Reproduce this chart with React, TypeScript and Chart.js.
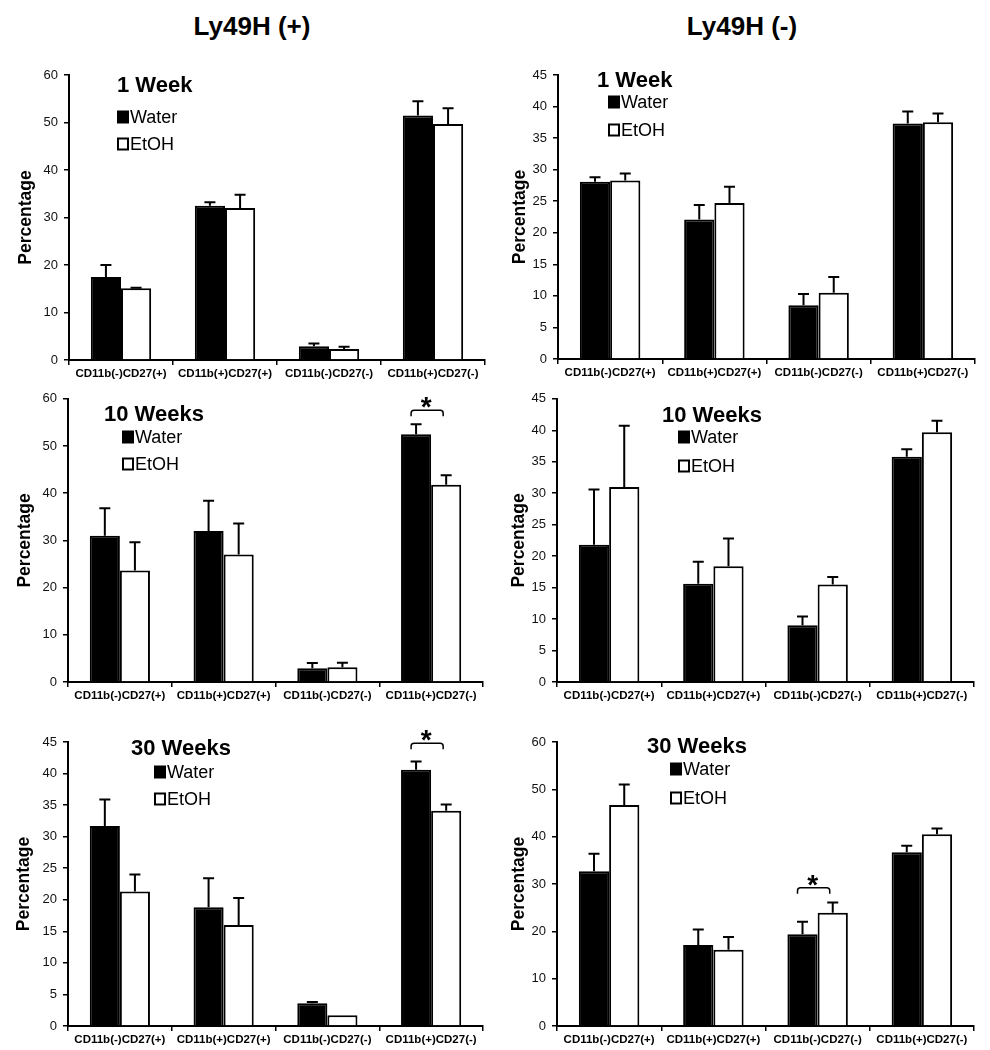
import React, { useEffect, useRef } from 'react';
import { Chart, registerables } from 'chart.js';

Chart.register(...registerables);

const FONT = '"Liberation Sans", Arial, Helvetica, sans-serif';

// ---------- data ----------
const categories = ['CD11b(-)CD27(+)', 'CD11b(+)CD27(+)', 'CD11b(-)CD27(-)', 'CD11b(+)CD27(-)'];
const seriesNames = ['Water', 'EtOH'];
const columnTitles = ['Ly49H (+)', 'Ly49H (-)'];
const panelTitles = ['1 Week', '1 Week', '10 Weeks', '10 Weeks', '30 Weeks', '30 Weeks'];
const yAxisTitle = 'Percentage';

// Ly49H (+), 1 week
const posW1Water = [17.5, 32.5, 2.9, 51.5];
const posW1WaterErr = [2.5, 0.7, 0.6, 3.0];
const posW1Etoh = [15.1, 32.0, 2.3, 49.7];
const posW1EtohErr = [0.1, 2.8, 0.5, 3.3];
// Ly49H (-), 1 week
const negW1Water = [28.1, 22.1, 8.5, 37.3];
const negW1WaterErr = [0.7, 2.3, 1.8, 1.9];
const negW1Etoh = [28.3, 24.7, 10.5, 37.5];
const negW1EtohErr = [1.1, 2.6, 2.5, 1.4];
// Ly49H (+), 10 weeks
const posW10Water = [31.0, 32.0, 2.9, 52.5];
const posW10WaterErr = [5.8, 6.4, 1.1, 2.1];
const posW10Etoh = [23.6, 27.0, 3.1, 41.8];
const posW10EtohErr = [6.0, 6.6, 1.0, 2.0];
// Ly49H (-), 10 weeks
const negW10Water = [21.8, 15.6, 9.0, 35.8];
const negW10WaterErr = [8.8, 3.5, 1.4, 1.2];
const negW10Etoh = [31.0, 18.4, 15.5, 39.7];
const negW10EtohErr = [9.7, 4.4, 1.2, 1.8];
// Ly49H (+), 30 weeks
const posW30Water = [31.7, 18.8, 3.6, 40.6];
const posW30WaterErr = [4.2, 4.6, 0.2, 1.3];
const posW30Etoh = [21.3, 16.0, 1.7, 34.1];
const posW30EtohErr = [2.7, 4.3, 0, 1.0];
// Ly49H (-), 30 weeks
const negW30Water = [32.7, 17.1, 19.4, 36.7];
const negW30WaterErr = [3.7, 3.3, 2.6, 1.4];
const negW30Etoh = [46.7, 16.1, 23.9, 40.5];
const negW30EtohErr = [4.3, 2.7, 2.2, 1.2];

// y-axis ranges
const axisMax = [60, 45, 60, 45, 45, 60];
const axisStep = [10, 5, 10, 5, 5, 10];

// significance markers: category index and bracket height (data units)
const posW1Sig: { cat: number; y: number }[] = [];
const negW1Sig: { cat: number; y: number }[] = [];
const posW10Sig = [{ cat: 3, y: 57.6 }];
const negW10Sig: { cat: number; y: number }[] = [];
const posW30Sig = [{ cat: 3, y: 44.8 }];
const negW30Sig = [{ cat: 2, y: 29.2 }];

// ---------- layout ----------
type Layout = {
  left: number; top: number; height: number;
  plotLeft: number; plotRight: number; plotTop: number; plotBottom: number;
  titleX: number; titleBase: number; legX: number; legY1: number; legY2: number;
  yTitlePad: number;
};

const layouts: Layout[] = [
  { left: 0, top: 40, height: 345, plotLeft: 69, plotRight: 485, plotTop: 75, plotBottom: 360, titleX: 117, titleBase: 92, legX: 117, legY1: 117, legY2: 144, yTitlePad: 16 },
  { left: 495, top: 40, height: 345, plotLeft: 558, plotRight: 975, plotTop: 75, plotBottom: 359, titleX: 597, titleBase: 87, legX: 608, legY1: 102, legY2: 130, yTitlePad: 15 },
  { left: 0, top: 385, height: 335, plotLeft: 68, plotRight: 483, plotTop: 398, plotBottom: 682, titleX: 104, titleBase: 421, legX: 122, legY1: 437, legY2: 464, yTitlePad: 15 },
  { left: 495, top: 385, height: 335, plotLeft: 557, plotRight: 974, plotTop: 398, plotBottom: 682, titleX: 662, titleBase: 422, legX: 678, legY1: 437, legY2: 466, yTitlePad: 14 },
  { left: 0, top: 720, height: 330, plotLeft: 68, plotRight: 483, plotTop: 742, plotBottom: 1026, titleX: 131, titleBase: 755, legX: 154, legY1: 772, legY2: 799, yTitlePad: 14 },
  { left: 495, top: 720, height: 330, plotLeft: 557, plotRight: 974, plotTop: 742, plotBottom: 1026, titleX: 647, titleBase: 753, legX: 670, legY1: 769, legY2: 798, yTitlePad: 14 },
];

const panelData = [
  { water: posW1Water, waterErr: posW1WaterErr, etoh: posW1Etoh, etohErr: posW1EtohErr, sig: posW1Sig },
  { water: negW1Water, waterErr: negW1WaterErr, etoh: negW1Etoh, etohErr: negW1EtohErr, sig: negW1Sig },
  { water: posW10Water, waterErr: posW10WaterErr, etoh: posW10Etoh, etohErr: posW10EtohErr, sig: posW10Sig },
  { water: negW10Water, waterErr: negW10WaterErr, etoh: negW10Etoh, etohErr: negW10EtohErr, sig: negW10Sig },
  { water: posW30Water, waterErr: posW30WaterErr, etoh: posW30Etoh, etohErr: posW30EtohErr, sig: posW30Sig },
  { water: negW30Water, waterErr: negW30WaterErr, etoh: negW30Etoh, etohErr: negW30EtohErr, sig: negW30Sig },
];

const CANVAS_W = 495;
const X_AXIS_H = 22;

function Panel({ index }: { index: number }) {
  const ref = useRef<HTMLCanvasElement | null>(null);
  const L = layouts[index];
  const D = panelData[index];

  useEffect(() => {
    if (!ref.current) return;
    const errs = [D.waterErr, D.etohErr];
    const ox = L.left;
    const oy = L.top;

    const overlay = {
      id: 'overlay' + index,
      afterDatasetsDraw(chart: any) {
        const ctx = chart.ctx;
        const ys = chart.scales.y;
        ctx.save();
        ctx.strokeStyle = '#000';
        ctx.lineWidth = 2;
        errs.forEach((arr, di) => {
          const meta = chart.getDatasetMeta(di);
          meta.data.forEach((bar: any, i: number) => {
            const e = arr[i];
            if (!e) return;
            const v = chart.data.datasets[di].data[i];
            const top = ys.getPixelForValue(v + e);
            ctx.beginPath();
            ctx.moveTo(bar.x, bar.y);
            ctx.lineTo(bar.x, top);
            ctx.moveTo(bar.x - 5.5, top);
            ctx.lineTo(bar.x + 5.5, top);
            ctx.stroke();
          });
        });
        ctx.restore();
      },
      afterDraw(chart: any) {
        const ctx = chart.ctx;
        const ys = chart.scales.y;
        ctx.save();
        // panel title
        ctx.fillStyle = '#000';
        ctx.font = `bold 22px ${FONT}`;
        ctx.textAlign = 'left';
        ctx.textBaseline = 'alphabetic';
        ctx.fillText(panelTitles[index], L.titleX - ox, L.titleBase - oy);
        // legend
        const box = 11;
        const rows = [L.legY1, L.legY2];
        seriesNames.forEach((name, si) => {
          const cy = rows[si] - oy;
          const bx = L.legX - ox;
          ctx.lineWidth = 2;
          ctx.strokeStyle = '#000';
          ctx.fillStyle = si === 0 ? '#000' : '#fff';
          ctx.fillRect(bx + 1, cy - box / 2, box - 1, box);
          ctx.strokeRect(bx + 1, cy - box / 2, box - 1, box);
          ctx.fillStyle = '#000';
          ctx.font = `18px ${FONT}`;
          ctx.textBaseline = 'middle';
          ctx.fillText(name, bx + box + 2, cy + 1);
        });
        // significance brackets
        D.sig.forEach((s) => {
          const w = chart.getDatasetMeta(0).data[s.cat];
          const e = chart.getDatasetMeta(1).data[s.cat];
          const x1 = w.x - 5;
          const x2 = e.x - 3;
          const yl = ys.getPixelForValue(s.y);
          const leg = 6;
          const r = 3;
          ctx.beginPath();
          ctx.lineWidth = 1.5;
          ctx.strokeStyle = '#000';
          ctx.moveTo(x1, yl + leg);
          ctx.lineTo(x1, yl + r);
          ctx.quadraticCurveTo(x1, yl, x1 + r, yl);
          ctx.lineTo(x2 - r, yl);
          ctx.quadraticCurveTo(x2, yl, x2, yl + r);
          ctx.lineTo(x2, yl + leg);
          ctx.stroke();
          ctx.font = `bold 28px ${FONT}`;
          ctx.textAlign = 'center';
          ctx.textBaseline = 'alphabetic';
          ctx.fillStyle = '#000';
          ctx.fillText('*', (x1 + x2) / 2 - 1, yl + 6);
        });
        ctx.restore();
      },
    };

    const chart = new Chart(ref.current, {
      type: 'bar',
      data: {
        labels: categories,
        datasets: [
          {
            label: seriesNames[0],
            data: D.water,
            backgroundColor: '#000',
            borderColor: '#000',
            borderWidth: 2,
            categoryPercentage: 0.58,
            barPercentage: 1.0,
          },
          {
            label: seriesNames[1],
            data: D.etoh,
            backgroundColor: '#fff',
            borderColor: '#000',
            borderWidth: 2,
            categoryPercentage: 0.58,
            barPercentage: 1.0,
          },
        ],
      },
      options: {
        responsive: false,
        animation: false,
        devicePixelRatio: 1,
        layout: {
          padding: {
            left: 0,
            right: L.left + CANVAS_W - L.plotRight,
            top: L.plotTop - L.top,
            bottom: L.top + L.height - L.plotBottom - X_AXIS_H,
          },
        },
        plugins: {
          legend: { display: false },
          tooltip: { enabled: false },
          title: { display: false },
        },
        scales: {
          x: {
            afterFit: (s: any) => { s.height = X_AXIS_H; },
            grid: {
              offset: true,
              drawOnChartArea: false,
              drawTicks: true,
              tickLength: 5,
              tickColor: '#000',
              lineWidth: 1.5,
            },
            border: { display: true, color: '#000', width: 2 },
            ticks: {
              autoSkip: false,
              maxRotation: 0,
              minRotation: 0,
              padding: 2,
              color: '#000',
              font: { family: FONT, size: 11.5, weight: 'bold' },
            },
          },
          y: {
            min: 0,
            max: axisMax[index],
            afterFit: (s: any) => { s.width = L.plotLeft - L.left; },
            grid: {
              drawOnChartArea: false,
              drawTicks: true,
              tickLength: 5,
              tickColor: '#000',
              lineWidth: 1.5,
            },
            border: { display: true, color: '#000', width: 2 },
            ticks: {
              stepSize: axisStep[index],
              padding: 6,
              color: '#111',
              font: { family: FONT, size: 13 },
            },
            title: {
              display: true,
              text: yAxisTitle,
              color: '#000',
              font: { family: FONT, size: 17.5, weight: 'bold' },
              padding: { top: L.yTitlePad, bottom: 0 },
            },
          },
        },
      },
      plugins: [overlay],
    } as any);

    return () => chart.destroy();
  }, [index]);

  return (
    <canvas
      ref={ref}
      width={CANVAS_W}
      height={L.height}
      style={{ position: 'absolute', left: L.left, top: L.top, width: CANVAS_W, height: L.height, display: 'block' }}
    />
  );
}

export default function App() {
  useEffect(() => {
    document.body.style.margin = '0';
    document.body.style.background = '#fff';
  }, []);
  const headerStyle = (cx: number): React.CSSProperties => ({
    position: 'absolute',
    left: cx - 150,
    width: 300,
    top: 13,
    textAlign: 'center',
    fontFamily: FONT,
    fontWeight: 'bold',
    fontSize: 26,
    lineHeight: '26px',
    color: '#000',
    whiteSpace: 'nowrap',
  });
  return (
    <div style={{ position: 'absolute', left: 0, top: 0, width: 990, height: 1050, background: '#fff', overflow: 'hidden' }}>
      <div style={headerStyle(252)}>{columnTitles[0]}</div>
      <div style={headerStyle(742)}>{columnTitles[1]}</div>
      {layouts.map((_, i) => (
        <Panel key={i} index={i} />
      ))}
    </div>
  );
}
